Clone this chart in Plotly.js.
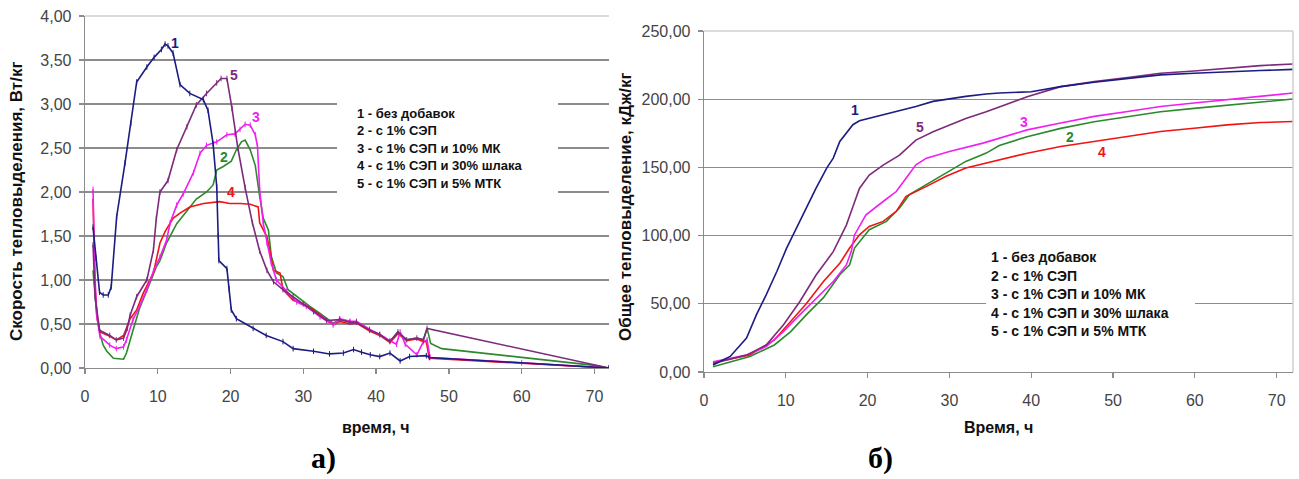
<!DOCTYPE html>
<html><head><meta charset="utf-8">
<script src="https://cdn.plot.ly/plotly-3.0.1.min.js"></script>
<style>html,body{margin:0;padding:0;background:#fff}#c{width:1299px;height:479px}</style>
</head><body><div id="c"></div>
<script>
// ---- Chart a) heat release rate, W/kg ----
const rate1_t = [1.1,1.5,2.0,2.5,3.2,3.6,4.35,5.5,6.3,7.1,8.5,9.5,10.5,11.0,11.4,12.1,13.05,14.4,16.25,16.9,17.6,18.1,18.3,18.4,19.5,19.8,20.1,20.8,23.1,24.9,27.2,28.6,31.4,33.6,35.5,36.9,38.0,39.2,40.5,41.9,43.3,44.6,46.9,47.3,72];
const rate1_v = [1.6,1.25,0.86,0.83,0.83,0.92,1.72,2.33,2.78,3.25,3.42,3.53,3.62,3.68,3.66,3.58,3.22,3.12,3.05,2.93,2.55,2.06,1.5,1.22,1.13,0.9,0.66,0.56,0.45,0.37,0.3,0.22,0.19,0.16,0.17,0.21,0.18,0.15,0.13,0.17,0.08,0.13,0.14,0.12,0.0];

const rate2_t = [1.1,1.6,2.06,2.5,3.0,3.9,5.3,5.7,6.6,7.5,8.9,9.8,10.3,11.2,12.6,14.0,15.3,16.7,17.6,18.1,19.0,20.1,20.8,21.5,22.0,22.7,23.4,24.0,24.5,25.2,25.6,26.3,27.2,27.9,29.1,30.9,32.3,34.1,35.0,36.4,37.3,39.1,40.5,41.9,43.0,44.2,45.6,46.5,47.0,47.5,49.0,56.5,70,72];
const rate2_v = [1.11,0.62,0.39,0.26,0.19,0.11,0.10,0.17,0.43,0.68,0.96,1.15,1.22,1.42,1.64,1.79,1.92,2.0,2.08,2.25,2.29,2.35,2.48,2.57,2.59,2.48,2.3,1.95,1.7,1.57,1.27,1.08,1.04,0.89,0.81,0.70,0.62,0.51,0.55,0.52,0.52,0.43,0.38,0.30,0.41,0.32,0.34,0.32,0.45,0.28,0.22,0.15,0.03,0.0];

const rate3_t = [1.1,1.3,1.6,2.06,3.4,4.3,5.3,5.7,6.6,7.5,8.5,9.4,10.3,11.2,11.7,12.6,13.5,14.9,15.8,16.7,18.1,19.5,20.6,21.3,22.0,22.7,23.4,23.7,24.0,24.5,25.0,25.6,26.3,27.7,29.1,30.4,32.3,34.1,35.0,36.4,37.3,39.1,40.5,41.9,42.8,43.3,44.0,45.6,46.5,47.0,47.4,60,72];
const rate3_v = [2.03,1.2,0.6,0.36,0.26,0.22,0.24,0.32,0.55,0.70,0.89,1.10,1.26,1.45,1.65,1.85,1.98,2.22,2.44,2.53,2.57,2.65,2.66,2.71,2.77,2.76,2.65,2.52,2.02,1.64,1.42,1.19,1.00,0.87,0.75,0.70,0.58,0.49,0.56,0.53,0.53,0.44,0.38,0.31,0.27,0.41,0.27,0.15,0.30,0.32,0.12,0.06,0.0];

const rate4_t = [1.1,1.25,1.4,1.7,2.06,3.4,4.3,5.3,6.2,7.1,8.0,9.4,10.3,11.0,12.1,13.05,14.4,16.3,18.5,19.9,21.3,22.7,23.8,24.0,25.0,25.4,25.9,26.8,27.2,28.6,30.0,31.4,32.7,34.1,35.0,36.4,37.3,39.1,40.5,41.9,43.0,44.2,45.6,46.5,46.9,47.3,72];
const rate4_v = [1.92,1.5,0.9,0.55,0.41,0.36,0.32,0.37,0.56,0.66,0.85,1.08,1.42,1.55,1.70,1.76,1.83,1.87,1.89,1.87,1.87,1.86,1.83,1.65,1.49,1.34,1.11,1.08,0.89,0.77,0.73,0.66,0.58,0.49,0.53,0.50,0.51,0.42,0.37,0.29,0.39,0.31,0.33,0.30,0.30,0.11,0.0];

const rate5_t = [1.1,1.4,2.0,3.4,4.3,5.3,5.8,6.2,7.1,8.5,9.4,9.8,10.3,11.4,12.6,14.0,15.3,16.7,18.1,18.7,19.5,20.2,21.0,22.0,23.0,24.0,25.0,25.9,27.2,28.6,30.0,31.4,33.2,35.0,36.4,37.3,39.1,40.5,41.9,43.0,44.2,45.6,46.5,47.0,72];
const rate5_v = [1.4,0.8,0.43,0.37,0.32,0.34,0.45,0.6,0.81,1.0,1.34,1.7,2.0,2.13,2.48,2.74,2.99,3.12,3.24,3.29,3.29,2.95,2.5,2.05,1.65,1.33,1.11,0.98,0.89,0.81,0.73,0.64,0.54,0.55,0.52,0.52,0.43,0.38,0.30,0.41,0.32,0.34,0.32,0.45,0.0];

// ---- Chart б) total heat release, kJ/kg ----
const tot1_t = [1.1,3.2,5.2,6.4,7.6,8.9,10.1,11.3,12.5,13.7,15.0,15.8,16.6,17.6,18.2,19.0,20.7,22.3,23.9,25.9,28.0,30.0,32.0,34.5,36.1,40,43.6,47.7,51.8,55.8,59.9,63.95,68,72];
const tot1_v = [5.1,11.4,24.9,41.9,56.6,73.7,90.8,105.5,120.2,134.8,149.5,156.8,169.0,176.4,181.3,184.2,186.7,189.1,191.5,194.7,198.4,200.3,202.1,203.8,204.5,205.5,209.2,212.4,215.3,217.8,219.0,220.2,221.0,221.9];

const tot2_t = [1.1,5.6,8.6,10.6,12.5,14.6,16.6,17.8,18.4,19.4,20.2,22.3,23.9,25.1,27.2,29.6,32.0,34.5,36.1,39.5,43.6,47.7,51.8,55.8,59.9,63.95,68,72];
const tot2_v = [3.9,11.3,19.8,29.6,41.9,54.5,71.3,78.6,90.9,98.2,104.3,110.4,120.2,130.0,137.3,145.9,154.4,160.5,166.1,172.5,178.6,183.5,187.2,190.8,193.3,195.7,198.2,200.1];

const tot3_t = [1.1,5.2,7.6,9.7,11.7,13.7,15.8,17.4,18.0,18.4,19.8,21.9,23.5,24.7,25.9,27.2,30.0,34.1,36.1,39.5,43.6,47.7,51.8,55.8,59.9,63.95,68,72];
const tot3_v = [7.5,12.4,18.6,29.6,41.9,54.1,66.3,78.5,88.3,100.5,115.2,125.0,132.3,142.1,151.9,156.8,161.7,167.8,171.5,177.5,182.5,187.4,191.0,194.7,197.2,199.6,202.5,204.5];

const tot4_t = [1.1,5.6,8.6,10.6,12.5,14.6,16.6,17.8,19.0,20.2,21.9,23.5,24.7,27.2,29.6,32.0,34.1,36.1,39.5,43.6,47.7,51.8,55.8,59.9,63.95,68,72];
const tot4_v = [6.9,12.4,23.5,36.9,50.0,66.3,79.7,90.9,100.6,106.7,110.4,117.8,128.8,136.1,143.5,149.5,152.5,155.6,160.4,165.3,168.9,172.6,176.3,178.7,181.2,182.9,183.6];

const tot5_t = [1.1,5.2,7.6,9.7,11.7,13.7,15.8,17.4,18.2,19.0,20.2,21.9,23.9,25.9,28.0,30.0,32.0,34.5,36.1,39.5,43.6,47.7,51.8,55.8,59.9,63.95,68,72];
const tot5_v = [6.3,12.4,19.8,34.4,51.5,71.1,88.2,107.7,121.2,134.6,144.4,151.7,159.0,170.0,176.2,181.0,185.9,190.8,194.5,201.8,209.2,212.9,215.8,219.0,220.7,222.7,224.6,225.8];

const xTicks = [0,10,20,30,40,50,60,70];
const legendLines = ["1 - без добавок","2 - с 1% СЭП","3 - с 1% СЭП и 10% МК","4 - с 1% СЭП и 30% шлака","5 - с 1% СЭП и 5% МТК"];
const curveNames = ["1","2","3","4","5"];
const titleA_y = "Скорость тепловыделения, Вт/кг";
const titleA_x = "время, ч";
const titleB_y = "Общее тепловыделение, кДж/кг";
const titleB_x = "Время, ч";

// ---- styling ----
const W = 1299, H = 479;
const colors = ["#1c1c82","#2b8a2b","#f01ef0","#f01414","#7d2a7d"];
const FONT = "Liberation Sans, Arial, sans-serif";
const px = v => v / W, py = v => 1 - v / H;

function tr(x, y, i, axes, mk) {
  const t = {x: x, y: y, type: "scatter", mode: mk ? "lines+markers" : "lines",
    line: {color: colors[i], width: 1.6}, xaxis: axes[0], yaxis: axes[1], hoverinfo: "skip"};
  if (mk) t.marker = {symbol: "line-ns", size: 4, line: {color: colors[i], width: 1}, color: colors[i]};
  return t;
}
const A = ["x","y"], B = ["x2","y2"];
const data = [
  tr(rate2_t, rate2_v, 1, A, false), tr(rate4_t, rate4_v, 3, A, false),
  tr(rate3_t, rate3_v, 2, A, true), tr(rate5_t, rate5_v, 4, A, true), tr(rate1_t, rate1_v, 0, A, true),
  tr(tot2_t, tot2_v, 1, B, false), tr(tot4_t, tot4_v, 3, B, false), tr(tot3_t, tot3_v, 2, B, false),
  tr(tot5_t, tot5_v, 4, B, false), tr(tot1_t, tot1_v, 0, B, false)
];

const axCommon = {showline: true, linecolor: "#8c8c8c", linewidth: 1.3, ticks: "outside", ticklen: 5,
  tickcolor: "#8c8c8c", tickwidth: 1.3, tickfont: {family: FONT, size: 16, color: "#444"}, zeroline: false};
const layout = {
  width: W, height: H, margin: {l: 0, r: 0, t: 0, b: 0}, showlegend: false,
  paper_bgcolor: "#fff", plot_bgcolor: "#fff", separators: ", ",
  xaxis: Object.assign({}, axCommon, {domain: [px(85), px(609)], range: [0, 72], tickvals: xTicks, showgrid: false, anchor: "y", ticklabelstandoff: 8}),
  yaxis: Object.assign({}, axCommon, {domain: [py(368), py(16)], range: [0, 4], dtick: 0.5, tickformat: ".2f",
    showgrid: true, gridcolor: "#8c8c8c", gridwidth: 1.3, anchor: "x", ticklabelstandoff: 4}),
  xaxis2: Object.assign({}, axCommon, {domain: [px(704), px(1293)], range: [0, 72], tickvals: xTicks, showgrid: false, anchor: "y2", ticklabelstandoff: 8}),
  yaxis2: Object.assign({}, axCommon, {domain: [py(372), py(31)], range: [0, 250], dtick: 50, tickformat: ".2f",
    showgrid: true, gridcolor: "#8c8c8c", gridwidth: 1.3, anchor: "x2", ticklabelstandoff: 4}),
  shapes: [], annotations: []
};

// top borders (light), right border for chart б
layout.shapes.push({type: "line", xref: "x domain", yref: "y domain", x0: 0, x1: 1, y0: 1, y1: 1, line: {color: "#fff", width: 3}, layer: "above"});
layout.shapes.push({type: "line", xref: "x domain", yref: "y domain", x0: 0, x1: 1, y0: 1, y1: 1, line: {color: "#cfcfcf", width: 1.5}, layer: "above"});
layout.shapes.push({type: "line", xref: "x2 domain", yref: "y2 domain", x0: 0, x1: 1, y0: 1, y1: 1, line: {color: "#fff", width: 3}, layer: "above"});
layout.shapes.push({type: "line", xref: "x2 domain", yref: "y2 domain", x0: 0, x1: 1, y0: 1, y1: 1, line: {color: "#cfcfcf", width: 1.5}, layer: "above"});
layout.shapes.push({type: "line", xref: "x2 domain", yref: "y2 domain", x0: 1, x1: 1, y0: 0, y1: 1, line: {color: "#cfcfcf", width: 1.5}, layer: "above"});

// legend boxes
layout.shapes.push({type: "rect", xref: "paper", yref: "paper", x0: px(337), x1: px(558), y0: py(200), y1: py(97), fillcolor: "#fff", line: {width: 0}, layer: "above"});
layout.shapes.push({type: "rect", xref: "paper", yref: "paper", x0: px(986), x1: px(1195), y0: py(346), y1: py(243), fillcolor: "#fff", line: {width: 0}, layer: "above"});

function ann(text, x, y, o) {
  layout.annotations.push(Object.assign({text: text, xref: "paper", yref: "paper", x: px(x), y: py(y),
    xanchor: "center", yanchor: "middle", showarrow: false,
    font: {family: FONT, size: 16, color: "#111", weight: "bold"}}, o || {}));
}
legendLines.forEach((s, i) => {
  ann(s, 355, 113 + i * 17.5, {xanchor: "left", font: {family: FONT, size: 13, color: "#111", weight: "bold"}});
  ann(s, 989, 257 + i * 18.5, {xanchor: "left", font: {family: FONT, size: 14, color: "#111", weight: "bold"}});
});

// axis titles
ann(titleA_y, 17, 202, {textangle: -90, font: {family: FONT, size: 17, color: "#111", weight: "bold"}});
ann(titleA_x, 376, 427);
ann(titleB_y, 625, 207, {textangle: -90, font: {family: FONT, size: 17, color: "#111", weight: "bold"}});
ann(titleB_x, 998, 427);

// curve numbers
const labA = [[175, 43], [224, 157], [256, 117], [231, 192], [234, 75]];
const labB = [[855, 110], [1070, 137], [1024, 122], [1102, 152], [920, 127]];
curveNames.forEach((n, i) => {
  ann(n, labA[i][0], labA[i][1], {font: {family: FONT, size: 14, color: colors[i], weight: "bold"}});
  ann(n, labB[i][0], labB[i][1], {font: {family: FONT, size: 14, color: colors[i], weight: "bold"}});
});

// panel labels
ann("а)", 323, 458, {font: {family: "Liberation Serif, Times New Roman, serif", size: 30, color: "#000", weight: "bold"}});
ann("б)", 880, 458, {font: {family: "Liberation Serif, Times New Roman, serif", size: 30, color: "#000", weight: "bold"}});

Plotly.newPlot("c", data, layout, {staticPlot: true, displayModeBar: false});
</script></body></html>
